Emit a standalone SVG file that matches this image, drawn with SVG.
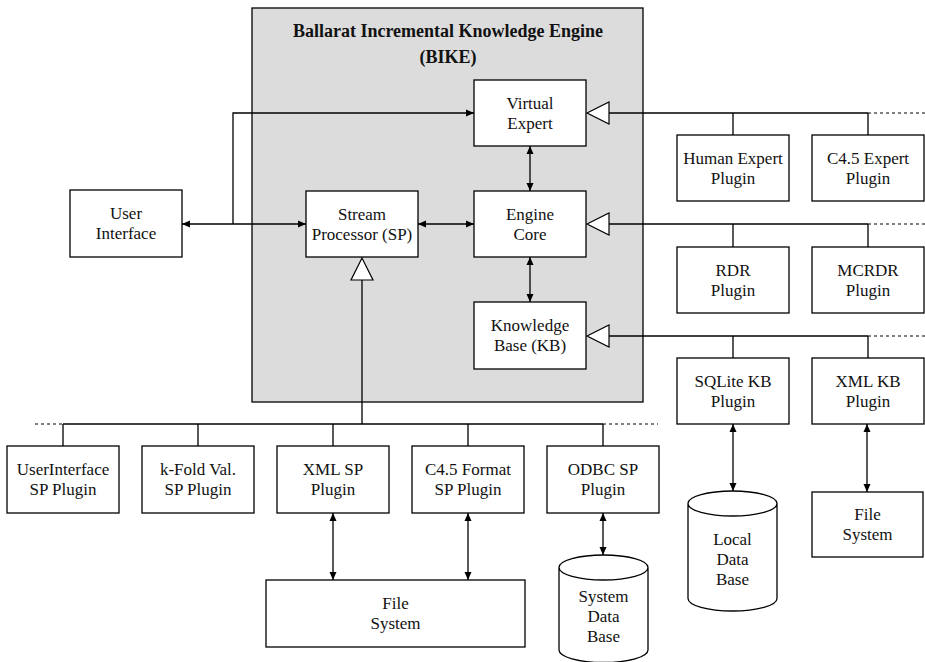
<svg xmlns="http://www.w3.org/2000/svg" width="925" height="662" viewBox="0 0 925 662" font-family="Liberation Serif, DejaVu Serif, serif">
<style>
.box{fill:#fff;stroke:#000;stroke-width:1.3}
.ln{fill:none;stroke:#000;stroke-width:1.3}
.dash{fill:none;stroke:#000;stroke-width:1.2;stroke-dasharray:3,3}
.tri{fill:#fff;stroke:#000;stroke-width:1.2}
text{font-family:'Liberation Serif','DejaVu Serif',serif;font-size:17px;fill:#111;text-anchor:middle}
.title{font-weight:bold;font-size:18px}
</style>
<defs>
<marker id="ah" viewBox="0 0 8 8" refX="8" refY="4" markerWidth="8" markerHeight="8" markerUnits="userSpaceOnUse" orient="auto-start-reverse">
<path d="M0,0.5 L8,4 L0,7.5 z" fill="#000"/>
</marker>
</defs>
<g id="bike">
<rect x="252" y="8" width="391" height="394" fill="#dcdcdc" stroke="#000" stroke-width="1.3"/>
<text class="title" x="448" y="37">Ballarat Incremental Knowledge Engine</text>
<text class="title" x="448" y="63">(BIKE)</text>
</g>
<g id="connectors">
<path class="ln" d="M182,224 L306,224" marker-start="url(#ah)" marker-end="url(#ah)"/>
<path class="ln" d="M233,224 L233,113 L474,113" marker-end="url(#ah)"/>
<path class="ln" d="M418,224 L474,224" marker-start="url(#ah)" marker-end="url(#ah)"/>
<path class="ln" d="M530,146 L530,191" marker-start="url(#ah)" marker-end="url(#ah)"/>
<path class="ln" d="M530,257 L530,302" marker-start="url(#ah)" marker-end="url(#ah)"/>
<path class="ln" d="M362,280 L362,424 M63,424 L603,424 M63,424 L63,446 M198,424 L198,446 M333,424 L333,446 M468,424 L468,446 M603,424 L603,446"/>
<path class="dash" d="M35,424 L63,424 M603,424 L658,424"/>
<polygon class="tri" points="362,258 351,280 373,280"/>
<path class="ln" d="M609,113 L868,113 M733,113 L733,135 M868,113 L868,135"/>
<path class="ln" d="M609,224 L868,224 M733,224 L733,247 M868,224 L868,247"/>
<path class="ln" d="M609,336 L868,336 M733,336 L733,358 M868,336 L868,358"/>
<path class="dash" d="M868,113 L925,113 M868,224 L925,224 M868,336 L925,336"/>
<polygon class="tri" points="587,113 609,102 609,124"/>
<polygon class="tri" points="587,224 609,213 609,235"/>
<polygon class="tri" points="587,336 609,325 609,347"/>
<path class="ln" d="M333,513 L333,580" marker-start="url(#ah)" marker-end="url(#ah)"/>
<path class="ln" d="M468,513 L468,580" marker-start="url(#ah)" marker-end="url(#ah)"/>
<path class="ln" d="M603,513 L603,555" marker-start="url(#ah)" marker-end="url(#ah)"/>
<path class="ln" d="M733,424 L733,491" marker-start="url(#ah)" marker-end="url(#ah)"/>
<path class="ln" d="M867,424 L867,492" marker-start="url(#ah)" marker-end="url(#ah)"/>
</g>
<g id="virtual-expert"><rect class="box" x="474" y="80" width="112" height="66"/><text x="530" y="109">Virtual</text><text x="530" y="129">Expert</text></g>
<g id="engine-core"><rect class="box" x="474" y="191" width="112" height="66"/><text x="530" y="220">Engine</text><text x="530" y="240">Core</text></g>
<g id="knowledge-base"><rect class="box" x="474" y="302" width="112" height="67"/><text x="530" y="331">Knowledge</text><text x="530" y="351">Base (KB)</text></g>
<g id="stream-processor"><rect class="box" x="306" y="191" width="112" height="66"/><text x="362" y="220">Stream</text><text x="362" y="240">Processor (SP)</text></g>
<g id="user-interface"><rect class="box" x="70" y="190" width="112" height="67"/><text x="126" y="219">User</text><text x="126" y="239">Interface</text></g>
<g id="human-expert"><rect class="box" x="677" y="135" width="112" height="66"/><text x="733" y="164">Human Expert</text><text x="733" y="184">Plugin</text></g>
<g id="c45-expert"><rect class="box" x="812" y="135" width="112" height="66"/><text x="868" y="164">C4.5 Expert</text><text x="868" y="184">Plugin</text></g>
<g id="rdr"><rect class="box" x="677" y="247" width="112" height="66"/><text x="733" y="276">RDR</text><text x="733" y="296">Plugin</text></g>
<g id="mcrdr"><rect class="box" x="812" y="247" width="112" height="66"/><text x="868" y="276">MCRDR</text><text x="868" y="296">Plugin</text></g>
<g id="sqlite-kb"><rect class="box" x="677" y="358" width="112" height="66"/><text x="733" y="387">SQLite KB</text><text x="733" y="407">Plugin</text></g>
<g id="xml-kb"><rect class="box" x="812" y="358" width="112" height="66"/><text x="868" y="387">XML KB</text><text x="868" y="407">Plugin</text></g>
<g id="ui-sp"><rect class="box" x="7" y="446" width="112" height="67"/><text x="63" y="475">UserInterface</text><text x="63" y="495">SP Plugin</text></g>
<g id="kfold-sp"><rect class="box" x="142" y="446" width="112" height="67"/><text x="198" y="475">k-Fold Val.</text><text x="198" y="495">SP Plugin</text></g>
<g id="xml-sp"><rect class="box" x="277" y="446" width="112" height="67"/><text x="333" y="475">XML SP</text><text x="333" y="495">Plugin</text></g>
<g id="c45-sp"><rect class="box" x="412" y="446" width="112" height="67"/><text x="468" y="475">C4.5 Format</text><text x="468" y="495">SP Plugin</text></g>
<g id="odbc-sp"><rect class="box" x="547" y="446" width="112" height="67"/><text x="603" y="475">ODBC SP</text><text x="603" y="495">Plugin</text></g>
<g id="file-system-1"><rect class="box" x="266" y="580" width="259" height="67"/><text x="395.5" y="609">File</text><text x="395.5" y="629">System</text></g>
<g id="file-system-2"><rect class="box" x="812" y="492" width="111" height="65"/><text x="867.5" y="520">File</text><text x="867.5" y="540">System</text></g>
<g id="local-db">
<path class="box" d="M688,503.5 L688,598.5 A44.5,12.5 0 0 0 777,598.5 L777,503.5 A44.5,12.5 0 0 0 688,503.5 A44.5,12.5 0 0 0 777,503.5"/>
<text x="732.5" y="545">Local</text><text x="732.5" y="565">Data</text><text x="732.5" y="585">Base</text>
</g>
<g id="system-db">
<path class="box" d="M559,567.5 L559,650 A44.5,12.5 0 0 0 648,650 L648,567.5 A44.5,12.5 0 0 0 559,567.5 A44.5,12.5 0 0 0 648,567.5"/>
<text x="603.5" y="602">System</text><text x="603.5" y="622">Data</text><text x="603.5" y="642">Base</text>
</g>
</svg>
